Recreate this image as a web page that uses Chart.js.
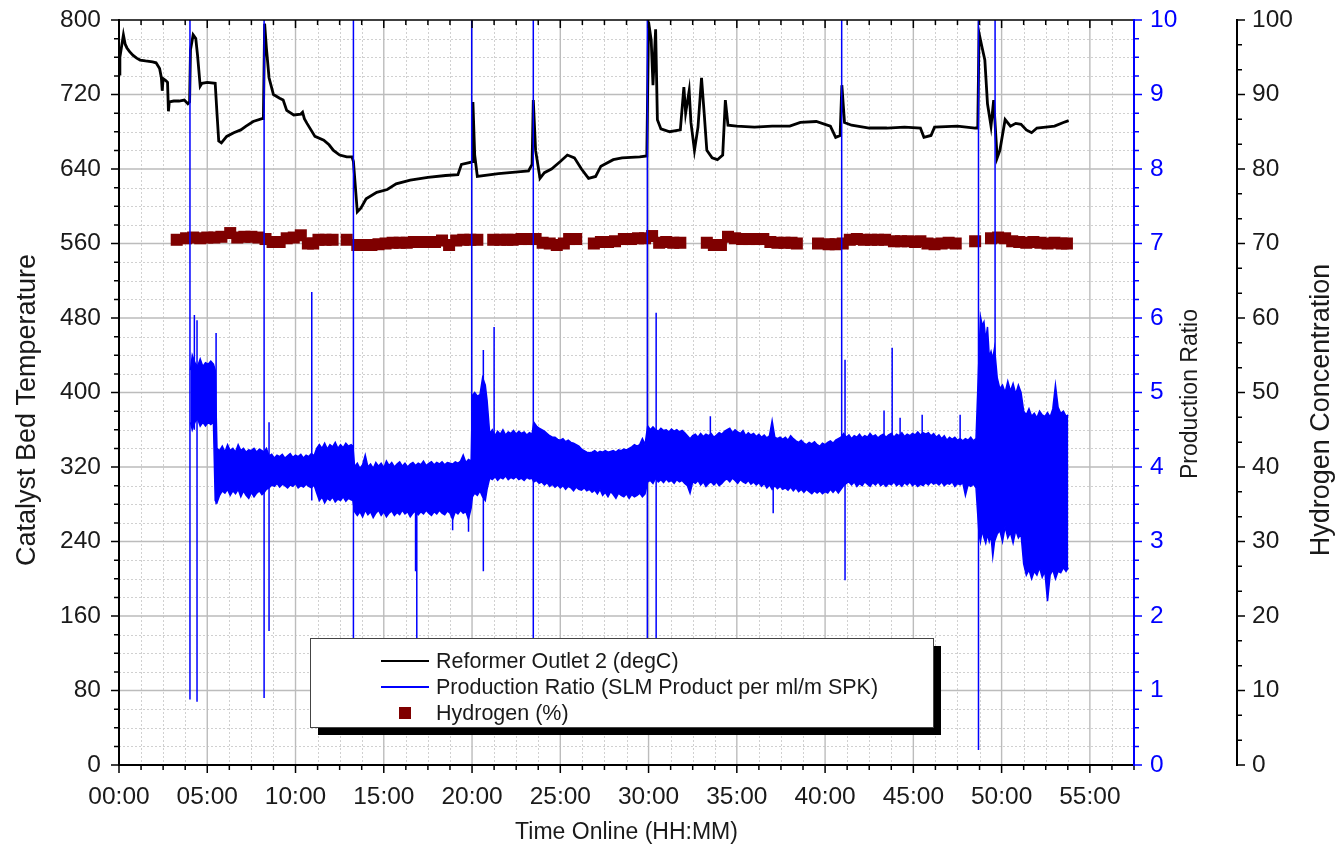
<!DOCTYPE html>
<html>
<head>
<meta charset="utf-8">
<script src="https://cdn.jsdelivr.net/npm/chart.js@4.4.1/dist/chart.umd.min.js"></script>
<style>
html,body{margin:0;padding:0;background:#fff;}
#wrap{width:1336px;height:857px;position:relative;}
</style>
</head>
<body>
<div id="wrap"><canvas id="c" width="1336" height="857"></canvas></div>
<script>
// ---------------- DATA ----------------
// Reformer Outlet 2 temperature (degC) vs time online (hours)
const tempTime = [
 0,0.05,0.15,0.25,0.35,0.45,0.6,0.8,1.0,1.2,
 1.5,1.9,2.1,2.3,2.4,2.45,2.5,2.65,2.75,2.8,
 2.85,3.1,3.4,3.7,3.9,4.0,4.05,4.2,4.35,4.45,
 4.6,4.7,5.0,5.45,5.55,5.65,5.8,6.1,6.5,6.9,
 7.2,7.6,8.1,8.18,8.25,8.35,8.5,8.75,9.1,9.3,
 9.5,9.9,10.3,10.4,10.5,10.65,11.1,11.6,11.9,12.15,
 12.5,12.9,13.2,13.28,13.5,13.7,14.0,14.6,15.2,15.7,
 16.5,17.5,18.5,19.2,19.4,19.9,20.0,20.05,20.15,20.3,
 21.5,22.6,23.2,23.4,23.47,23.6,23.85,24.1,24.5,25.0,
 25.4,25.8,26.2,26.6,27.0,27.3,28.0,28.5,29.5,29.9,
 30.0,30.15,30.25,30.4,30.5,30.7,31.2,31.8,32.0,32.1,
 32.3,32.4,32.6,32.8,33.0,33.15,33.3,33.6,33.9,34.2,
 34.35,34.5,35.0,36.0,37.0,38.0,38.6,39.5,40.3,40.6,
 40.85,40.95,41.1,41.5,42.5,43.5,44.5,45.4,45.6,46.0,
 46.2,47.5,48.5,48.65,48.72,48.9,49.05,49.2,49.4,49.55,
 49.75,49.9,50.2,50.5,50.8,51.1,51.4,51.7,52.0,52.5,
 53.0,53.5,53.8];
const tempValue = [
 742,760,772,784,774,770,766,762,759,757,
 756,755,754,748,738,724,737,735,733,702,
 712,713,713,714,710,712,768,784,780,762,
 729,732,733,732,700,670,668,675,679,682,
 686,691,694,694,796,770,738,720,716,714,
 703,698,699,701,694,689,675,671,666,660,
 655,653,653,648,594,598,608,615,618,624,
 628,631,633,634,645,647,648,712,655,632,
 635,637,638,645,714,660,630,636,640,648,
 655,652,640,630,632,643,650,652,653,654,
 798,778,730,790,693,683,680,682,728,700,
 724,690,660,685,738,700,660,652,650,655,
 714,687,686,685,686,686,690,691,686,674,
 676,730,690,687,684,684,685,684,674,676,
 685,686,684,684,786,770,757,710,686,714,
 652,660,693,686,689,688,682,679,684,685,
 686,690,692];

// Production ratio: upper and lower edge of the noisy band
const ratioTime = [
 4.05,4.15,4.3,4.45,4.6,4.75,4.9,5.05,5.2,5.35,
 5.45,5.55,5.7,5.85,6.0,6.15,6.3,6.45,6.6,6.75,
 6.9,7.05,7.2,7.35,7.5,7.65,7.8,7.95,8.1,8.2,
 8.35,8.5,8.65,8.8,8.95,9.1,9.25,9.4,9.55,9.7,
 9.85,10.0,10.15,10.3,10.45,10.6,10.75,10.9,11.05,11.2,
 11.35,11.5,11.65,11.8,11.95,12.1,12.25,12.4,12.55,12.7,
 12.85,13.0,13.15,13.25,13.35,13.5,13.65,13.8,13.95,14.1,
 14.25,14.4,14.55,14.7,14.85,15.0,15.15,15.3,15.45,15.6,
 15.75,15.9,16.05,16.2,16.35,16.5,16.65,16.8,16.95,17.1,
 17.25,17.4,17.55,17.7,17.85,18.0,18.15,18.3,18.45,18.6,
 18.75,18.9,19.05,19.2,19.35,19.5,19.65,19.8,19.95,20.02,
 20.15,20.3,20.45,20.6,20.75,20.85,21.0,21.15,21.3,21.45,
 21.6,21.75,21.9,22.05,22.2,22.35,22.5,22.65,22.8,22.95,
 23.1,23.25,23.4,23.5,23.65,23.8,23.95,24.1,24.25,24.4,
 24.55,24.7,24.85,25.0,25.15,25.3,25.45,25.6,25.75,25.9,
 26.05,26.2,26.35,26.5,26.65,26.8,26.95,27.1,27.25,27.4,
 27.55,27.7,27.85,28.0,28.15,28.3,28.45,28.6,28.75,28.9,
 29.05,29.2,29.35,29.5,29.65,29.8,29.95,30.1,30.25,30.4,
 30.55,30.7,30.85,31.0,31.15,31.3,31.45,31.6,31.75,31.9,
 32.05,32.2,32.35,32.5,32.65,32.8,32.95,33.1,33.25,33.4,
 33.55,33.7,33.85,34.0,34.15,34.3,34.45,34.6,34.75,34.9,
 35.05,35.2,35.35,35.5,35.65,35.8,35.95,36.1,36.25,36.4,
 36.55,36.7,36.85,37.0,37.15,37.3,37.45,37.6,37.75,37.9,
 38.05,38.2,38.35,38.5,38.65,38.8,38.95,39.1,39.25,39.4,
 39.55,39.7,39.85,40.0,40.15,40.3,40.45,40.6,40.75,40.9,
 41.05,41.2,41.35,41.5,41.65,41.8,41.95,42.1,42.25,42.4,
 42.55,42.7,42.85,43.0,43.15,43.3,43.45,43.6,43.75,43.9,
 44.05,44.2,44.35,44.5,44.65,44.8,44.95,45.1,45.25,45.4,
 45.55,45.7,45.85,46.0,46.15,46.3,46.45,46.6,46.75,46.9,
 47.05,47.2,47.35,47.5,47.65,47.8,47.95,48.1,48.25,48.4,
 48.55,48.72,48.8,48.9,49.0,49.1,49.2,49.3,49.4,49.5,
 49.6,49.75,49.9,50.05,50.2,50.35,50.5,50.65,50.8,50.95,
 51.1,51.25,51.4,51.55,51.7,51.85,52.0,52.15,52.3,52.45,
 52.6,52.75,52.9,53.05,53.2,53.35,53.5,53.65,53.78];
const ratioHigh = [
 5.3,5.5,5.4,5.35,5.45,5.35,5.4,5.38,5.42,5.38,
 5.3,4.25,4.22,4.28,4.2,4.3,4.22,4.25,4.2,4.3,
 4.22,4.25,4.2,4.23,4.22,4.25,4.2,4.24,4.22,4.2,
 4.25,4.15,4.17,4.12,4.16,4.14,4.17,4.12,4.15,4.18,
 4.13,4.16,4.14,4.17,4.12,4.16,4.14,4.18,4.15,4.25,
 4.3,4.25,4.32,4.24,4.3,4.27,4.33,4.25,4.3,4.26,
 4.32,4.28,4.3,4.28,4.0,4.05,3.98,4.03,4.16,4.0,
 4.04,3.98,4.06,4.01,4.05,3.99,4.08,4.02,4.06,4.0,
 4.04,4.07,4.01,4.05,4.0,4.04,4.06,4.02,4.05,4.03,
 4.08,4.02,4.05,4.07,4.03,4.06,4.04,4.07,4.03,4.06,
 4.05,4.04,4.07,4.05,4.08,4.16,4.06,4.1,4.08,4.96,
 5.0,4.95,4.97,5.2,5.1,4.9,4.45,4.5,4.42,4.48,
 4.44,4.5,4.43,4.47,4.45,4.49,4.44,4.48,4.45,4.47,
 4.43,4.46,4.44,4.6,4.55,4.52,4.5,4.48,4.45,4.42,
 4.4,4.4,4.37,4.36,4.38,4.34,4.36,4.33,4.32,4.3,
 4.28,4.24,4.22,4.2,4.19,4.2,4.22,4.19,4.21,4.2,
 4.22,4.2,4.21,4.22,4.2,4.23,4.22,4.24,4.23,4.25,
 4.27,4.3,4.28,4.3,4.38,4.3,4.55,4.5,4.54,4.5,
 4.48,4.52,4.49,4.5,4.47,4.51,4.48,4.5,4.47,4.49,
 4.46,4.42,4.38,4.42,4.44,4.4,4.45,4.41,4.44,4.42,
 4.45,4.4,4.43,4.46,4.44,4.48,4.5,4.52,4.46,4.5,
 4.47,4.45,4.49,4.42,4.46,4.43,4.45,4.41,4.44,4.4,
 4.43,4.39,4.42,4.62,4.4,4.38,4.4,4.37,4.4,4.36,
 4.42,4.38,4.35,4.33,4.36,4.32,4.3,4.33,4.31,4.34,
 4.3,4.28,4.32,4.3,4.33,4.35,4.32,4.36,4.38,4.4,
 4.45,4.4,4.43,4.38,4.42,4.4,4.44,4.39,4.42,4.4,
 4.45,4.41,4.43,4.39,4.42,4.44,4.4,4.43,4.45,4.4,
 4.44,4.42,4.46,4.41,4.44,4.42,4.45,4.43,4.47,4.43,
 4.46,4.44,4.46,4.42,4.45,4.4,4.43,4.38,4.42,4.36,
 4.4,4.37,4.4,4.36,4.38,4.35,4.38,4.36,4.4,4.35,
 4.38,5.5,6.02,5.9,5.95,5.7,5.88,5.48,5.55,5.45,
 5.6,5.2,5.05,5.1,5.0,5.15,5.02,5.12,4.98,5.1,
 5.0,4.75,4.7,4.78,4.68,4.72,4.66,4.75,4.7,4.68,
 4.73,4.67,4.78,5.1,4.8,4.72,4.75,4.68,4.7];
const ratioLow = [
 4.6,4.5,4.6,4.65,4.55,4.6,4.55,4.6,4.57,4.6,
 3.55,3.52,3.62,3.68,3.65,3.7,3.62,3.68,3.64,3.7,
 3.6,3.68,3.62,3.58,3.66,3.6,3.65,3.68,3.63,3.65,
 3.7,3.72,3.76,3.74,3.78,3.73,3.77,3.75,3.72,3.76,
 3.74,3.78,3.72,3.75,3.73,3.77,3.74,3.72,3.76,3.65,
 3.55,3.6,3.52,3.58,3.55,3.6,3.53,3.57,3.55,3.6,
 3.54,3.58,3.56,3.55,3.4,3.35,3.4,3.33,3.42,3.36,
 3.4,3.32,3.38,3.42,3.35,3.4,3.33,3.38,3.41,3.35,
 3.39,3.36,3.42,3.37,3.4,3.33,3.38,3.41,3.36,3.4,
 3.37,3.42,3.38,3.35,3.4,3.37,3.42,3.38,3.36,3.41,
 3.38,3.3,3.4,3.37,3.42,3.38,3.4,3.3,3.45,3.6,
 3.65,3.62,3.68,3.6,3.55,3.7,3.85,3.83,3.87,3.82,
 3.86,3.84,3.88,3.83,3.86,3.84,3.87,3.83,3.85,3.82,
 3.86,3.84,3.85,3.8,3.82,3.78,3.8,3.76,3.79,3.74,
 3.77,3.73,3.76,3.72,3.75,3.7,3.74,3.72,3.68,3.73,
 3.7,3.69,3.72,3.68,3.7,3.66,3.69,3.64,3.7,3.62,
 3.66,3.6,3.67,3.63,3.58,3.65,3.62,3.6,3.64,3.58,
 3.63,3.6,3.62,3.65,3.6,3.64,3.8,3.82,3.78,3.85,
 3.8,3.83,3.79,3.84,3.8,3.82,3.78,3.83,3.8,3.82,
 3.78,3.75,3.65,3.8,3.78,3.82,3.76,3.8,3.74,3.78,
 3.8,3.76,3.8,3.75,3.78,3.82,3.84,3.8,3.85,3.82,
 3.78,3.83,3.8,3.78,3.82,3.77,3.8,3.76,3.79,3.74,
 3.78,3.72,3.76,3.7,3.75,3.71,3.74,3.7,3.72,3.69,
 3.73,3.68,3.72,3.67,3.7,3.66,3.7,3.67,3.64,3.68,
 3.65,3.68,3.64,3.67,3.65,3.7,3.66,3.7,3.65,3.7,
 3.75,3.78,3.8,3.76,3.8,3.74,3.78,3.75,3.8,3.77,
 3.74,3.79,3.76,3.8,3.75,3.78,3.74,3.78,3.76,3.8,
 3.75,3.78,3.74,3.79,3.76,3.8,3.75,3.78,3.74,3.77,
 3.75,3.79,3.76,3.8,3.77,3.79,3.76,3.8,3.75,3.78,
 3.77,3.8,3.74,3.78,3.76,3.79,3.62,3.76,3.74,3.77,
 3.72,3.1,3.0,3.15,3.05,2.98,3.1,3.0,3.08,2.8,
 3.0,3.1,3.15,3.0,3.2,3.05,3.12,2.98,3.15,3.05,
 3.1,2.7,2.55,2.62,2.5,2.6,2.55,2.65,2.52,2.6,
 2.2,2.55,2.62,2.5,2.6,2.58,2.65,2.6,2.65];

// Production ratio: isolated spikes (time, low end, high end)
const spikeTime = [4.02,4.27,4.42,5.5,8.22,8.5,10.92,13.28,16.8,16.87,18.9,19.8,19.98,20.64,21.25,23.47,29.93,30.43,33.5,37.06,40.94,41.13,43.34,43.8,44.25,45.5,47.65,48.69,49.63];
const spikeLow  = [0.88,4.5,0.85,3.5,0.9,1.8,3.55,1.5,2.6,1.6,3.15,3.13,3.6,2.6,3.85,1.7,1.2,1.5,4.0,3.38,4.0,2.48,4.0,4.3,4.0,4.0,4.0,0.2,4.0];
const spikeHigh = [10.3,6.04,5.97,5.8,10.3,4.6,6.35,10.3,3.9,3.9,3.6,3.6,10.3,5.57,5.88,10.3,10.3,6.07,4.68,3.9,10.3,5.44,4.76,5.6,4.66,4.7,4.7,10.3,10.3];

// Hydrogen concentration (%)
const h2Time = [
 3.27,3.8,4.2,4.6,5.0,5.4,5.8,6.3,6.7,7.1,
 7.5,7.9,8.3,8.7,9.1,9.5,9.9,10.3,10.7,11.0,
 11.3,11.7,12.1,12.9,13.5,13.9,14.3,14.7,15.1,15.5,
 15.9,16.3,16.7,17.1,17.5,17.9,18.3,18.7,19.1,19.5,
 19.9,20.3,21.2,21.6,22.0,22.3,22.8,23.2,23.6,24.0,
 24.4,24.8,25.2,25.5,25.9,26.9,27.3,27.7,28.1,28.6,
 29.0,29.4,29.8,30.2,30.6,31.0,31.4,31.8,33.3,33.7,
 34.1,34.5,34.9,35.3,35.7,36.1,36.5,36.9,37.3,37.7,
 38.1,38.4,39.6,40.2,40.6,41.0,41.4,41.8,42.2,42.6,
 43.0,43.4,43.9,44.3,44.7,45.1,45.4,45.8,46.2,46.6,
 47.0,47.4,48.5,49.4,49.8,50.2,50.6,51.0,51.4,51.8,
 52.2,52.6,53.0,53.4,53.7];
const h2Value = [
 70.5,70.7,70.8,70.7,70.8,70.8,70.9,71.4,70.8,70.9,
 70.9,70.8,70.6,70.2,70.2,70.7,70.8,71.1,70.0,70.0,
 70.5,70.5,70.5,70.5,69.8,69.8,69.8,69.9,70.0,70.1,
 70.1,70.1,70.2,70.2,70.2,70.2,70.4,69.8,70.4,70.5,
 70.5,70.5,70.5,70.5,70.5,70.5,70.6,70.6,70.6,70.1,
 70.0,69.8,70.0,70.6,70.6,70.0,70.2,70.2,70.3,70.6,
 70.6,70.7,70.7,71.0,70.1,70.2,70.1,70.1,70.1,69.8,
 69.8,70.9,70.7,70.6,70.6,70.6,70.6,70.2,70.1,70.1,
 70.1,70.0,70.0,69.9,69.9,70.0,70.5,70.6,70.5,70.5,
 70.5,70.5,70.3,70.3,70.3,70.2,70.3,70.0,69.9,70.0,
 70.1,70.0,70.3,70.7,70.8,70.7,70.3,70.2,70.1,70.2,
 70.1,70.0,70.1,70.0,70.0];

// Labels
const seriesLabels = ['Reformer Outlet 2 (degC)', 'Production Ratio (SLM Product per ml/m SPK)', 'Hydrogen (%)'];
const axisTitles = { x: 'Time Online (HH:MM)', y: 'Catalyst Bed Temperature', y2: 'Production Ratio', y3: 'Hydrogen Concentration' };

// ---------------- CHART ----------------
const FONT = '"Liberation Sans", Arial, Helvetica, sans-serif';
Chart.defaults.font.family = FONT;
const BLUE = '#0000ff', MAROON = '#7f0000', INK = '#1a1a1a';

const tempData = tempTime.map((t, i) => ({x: t, y: tempValue[i]}));
const hiData = ratioTime.map((t, i) => ({x: t, y: ratioHigh[i]}));
const loData = ratioTime.map((t, i) => ({x: t, y: ratioLow[i]}));
const spikeData = [];
spikeTime.forEach((t, i) => {
  spikeData.push({x: t, y: spikeLow[i]}, {x: t, y: spikeHigh[i]}, {x: t, y: null});
});
const h2Data = h2Time.map((t, i) => ({x: t, y: h2Value[i]}));

function line(ctx, x1, y1, x2, y2) { ctx.moveTo(x1, y1); ctx.lineTo(x2, y2); }

const frame = {
  id: 'frame',
  beforeDatasetsDraw(chart) {
    const {ctx, chartArea: a} = chart;
    const x = chart.scales.x, y = chart.scales.y;
    ctx.save();
    ctx.lineWidth = 1;
    ctx.strokeStyle = '#d0d0d0';
    ctx.setLineDash([2, 2]);
    ctx.beginPath();
    for (let i = 1; i * 1.25 < x.max; i++) {
      if (i % 4 === 0) continue;
      const px = Math.round(x.getPixelForValue(i * 1.25)) + 0.5;
      line(ctx, px, a.top, px, a.bottom);
    }
    for (let v = 20; v < y.max; v += 20) {
      if (v % 80 === 0) continue;
      const py = Math.round(y.getPixelForValue(v)) + 0.5;
      line(ctx, a.left, py, a.right, py);
    }
    ctx.stroke();
    ctx.setLineDash([]);
    ctx.strokeStyle = '#bcbcbc';
    ctx.lineWidth = 1.4;
    ctx.beginPath();
    for (let v = 5; v < x.max; v += 5) {
      const px = x.getPixelForValue(v);
      line(ctx, px, a.top, px, a.bottom);
    }
    for (let v = 80; v < y.max; v += 80) {
      const py = y.getPixelForValue(v);
      line(ctx, a.left, py, a.right, py);
    }
    ctx.stroke();
    ctx.restore();
  },
  afterDatasetsDraw(chart) {
    const {ctx, chartArea: a} = chart;
    const {x, y, y2, y3} = chart.scales;
    ctx.save();
    ctx.lineCap = 'butt';
    ctx.strokeStyle = '#000';
    ctx.lineWidth = 1.5;
    ctx.beginPath();
    for (let i = 0; i * 1.25 <= x.max + 1e-9; i++) {
      const px = x.getPixelForValue(i * 1.25);
      const len = (i % 4 === 0) ? 8 : 5;
      line(ctx, px, a.bottom, px, a.bottom + len);
      line(ctx, px, a.top, px, a.top + len);
    }
    for (let v = 0; v <= y.max; v += 20) {
      const py = y.getPixelForValue(v);
      const len = (v % 80 === 0) ? 8 : 5;
      line(ctx, a.left - len, py, a.left, py);
    }
    const hx = y3.left;
    for (let i = 0; i <= 30; i++) {
      const py = y3.getPixelForValue(i * 10 / 3);
      const len = (i % 3 === 0) ? 8 : 5;
      line(ctx, hx, py, hx + len, py);
    }
    ctx.stroke();
    ctx.lineWidth = 2;
    ctx.beginPath();
    line(ctx, a.left, a.top - 1, a.left, a.bottom + 1);
    line(ctx, a.left, a.bottom, a.right, a.bottom);
    line(ctx, hx, y3.top - 1, hx, y3.bottom + 1);
    ctx.stroke();
    ctx.lineWidth = 1.5;
    ctx.beginPath();
    line(ctx, a.left, a.top, a.right, a.top);
    ctx.stroke();
    ctx.strokeStyle = BLUE;
    ctx.lineWidth = 1.5;
    ctx.beginPath();
    for (let i = 0; i <= 40; i++) {
      const py = y2.getPixelForValue(i * 0.25);
      const len = (i % 4 === 0) ? 8 : 5;
      line(ctx, a.right, py, a.right + len, py);
    }
    ctx.stroke();
    ctx.lineWidth = 2;
    ctx.beginPath();
    line(ctx, a.right, a.top - 1, a.right, a.bottom + 1);
    ctx.stroke();
    ctx.restore();
  },
  afterDraw(chart) {
    const {ctx, chartArea: a} = chart;
    ctx.save();
    ctx.fillStyle = INK;
    ctx.textAlign = 'center';
    ctx.textBaseline = 'middle';
    ctx.font = '23px ' + FONT;
    ctx.fillText(axisTitles.x, (a.left + a.right) / 2, 833);
    const vt = (txt, cx, cy) => { ctx.save(); ctx.translate(cx, cy); ctx.rotate(-Math.PI / 2); ctx.fillText(txt, 0, 0); ctx.restore(); };
    ctx.font = '27px ' + FONT;
    vt(axisTitles.y, 28, 410);
    vt(axisTitles.y3, 1322, 410);
    ctx.font = '23px ' + FONT;
    vt(axisTitles.y2, 1191, 394);

    // legend box with drop shadow
    const L = {x: 310, y: 638, w: 623, h: 89};
    ctx.fillStyle = '#000';
    ctx.fillRect(L.x + 8, L.y + 8, L.w, L.h);
    ctx.fillStyle = '#fff';
    ctx.fillRect(L.x, L.y, L.w, L.h);
    ctx.strokeStyle = '#444';
    ctx.lineWidth = 1;
    ctx.strokeRect(L.x + 0.5, L.y + 0.5, L.w, L.h);
    const rows = [661, 687, 713];
    ctx.font = '21.5px ' + FONT;
    ctx.textAlign = 'left';
    ctx.fillStyle = INK;
    rows.forEach((ry, i) => ctx.fillText(seriesLabels[i], 436, ry + 1));
    ctx.lineWidth = 2;
    ctx.strokeStyle = '#000';
    ctx.beginPath(); line(ctx, 381, rows[0], 429, rows[0]); ctx.stroke();
    ctx.strokeStyle = BLUE;
    ctx.beginPath(); line(ctx, 381, rows[1], 429, rows[1]); ctx.stroke();
    ctx.fillStyle = MAROON;
    ctx.fillRect(399, rows[2] - 6, 12, 12);
    ctx.restore();
  }
};

const tickFont = {size: 24.5, family: FONT};
const noPadV = s => { s.paddingTop = 0; s.paddingBottom = 0; };

new Chart(document.getElementById('c'), {
  type: 'line',
  data: {
    datasets: [
      {label: seriesLabels[0], data: tempData, yAxisID: 'y', borderColor: '#000', borderWidth: 2.8,
       pointRadius: 0, fill: false, order: 2},
      {label: seriesLabels[1], data: hiData, yAxisID: 'y2', borderColor: BLUE, borderWidth: 1.5,
       pointRadius: 0, fill: false, order: 1},
      {label: '', data: loData, yAxisID: 'y2', borderColor: BLUE, borderWidth: 1.5,
       pointRadius: 0, fill: '-1', backgroundColor: BLUE, order: 1},
      {label: '', data: spikeData, yAxisID: 'y2', borderColor: BLUE, borderWidth: 1.5,
       pointRadius: 0, fill: false, spanGaps: false, order: 1},
      {label: seriesLabels[2], data: h2Data, yAxisID: 'y3', showLine: false, pointStyle: 'rect',
       pointRadius: 8.5, pointBackgroundColor: MAROON, pointBorderWidth: 0, pointBorderColor: MAROON, order: 3}
    ]
  },
  options: {
    responsive: false,
    animation: false,
    devicePixelRatio: 1,
    layout: {padding: {top: 20, left: 0, right: 0, bottom: 0}},
    plugins: {legend: {display: false}, tooltip: {enabled: false}},
    elements: {line: {tension: 0}},
    scales: {
      x: {
        type: 'linear', position: 'bottom', min: 0, max: 57.5,
        afterFit: s => { s.height = 92; s.paddingLeft = 0; s.paddingRight = 0; },
        grid: {display: false, drawTicks: false}, border: {display: false},
        ticks: {stepSize: 5, autoSkip: false, maxRotation: 0, includeBounds: false, padding: 18,
                color: INK, font: tickFont,
                callback: v => (v % 5 === 0 ? String(v).padStart(2, '0') + ':00' : '')}
      },
      y: {
        type: 'linear', position: 'left', min: 0, max: 800,
        afterFit: s => { s.width = 119; noPadV(s); },
        grid: {display: false, drawTicks: false}, border: {display: false},
        ticks: {stepSize: 80, padding: 18, color: INK, font: tickFont}
      },
      y2: {
        type: 'linear', position: 'right', min: 0, max: 10, weight: 0,
        afterFit: s => { s.width = 103; noPadV(s); },
        grid: {display: false, drawTicks: false}, border: {display: false},
        ticks: {stepSize: 1, padding: 16, color: BLUE, font: tickFont}
      },
      y3: {
        type: 'linear', position: 'right', min: 0, max: 100, weight: 1,
        afterFit: s => { s.width = 99; noPadV(s); },
        grid: {display: false, drawTicks: false}, border: {display: false},
        ticks: {stepSize: 10, padding: 15, color: INK, font: tickFont}
      }
    }
  },
  plugins: [frame]
});
</script>
